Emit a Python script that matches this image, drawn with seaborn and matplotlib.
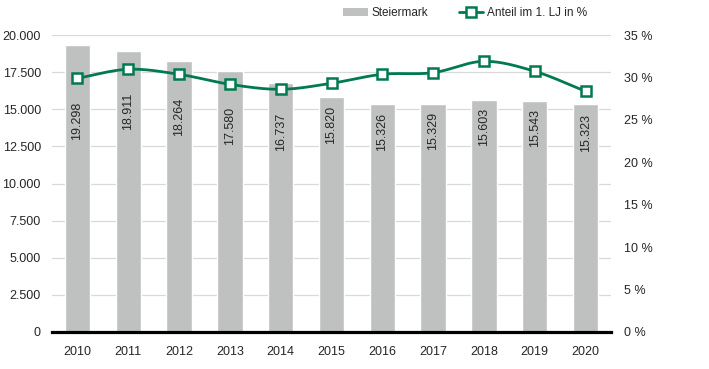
import numpy as np
import pandas as pd
import matplotlib
matplotlib.use("Agg")
import matplotlib.pyplot as plt
import seaborn as sns
from matplotlib.patches import Patch
from matplotlib.lines import Line2D

years = ["2010", "2011", "2012", "2013", "2014", "2015", "2016", "2017", "2018", "2019", "2020"]
steiermark = [19298, 18911, 18264, 17580, 16737, 15820, 15326, 15329, 15603, 15543, 15323]
anteil = [29.9, 30.96, 30.37, 29.19, 28.6, 29.31, 30.37, 30.56, 31.9, 30.72, 28.37]
left_ticks = [0, 2500, 5000, 7500, 10000, 12500, 15000, 17500, 20000]
right_ticks = [0, 5, 10, 15, 20, 25, 30, 35]

BAR = "#BFC1C1"
GREEN = "#007A4E"
FONT = "Liberation Sans"

sns.set_theme(style="white")
plt.rcParams["font.family"] = [FONT, "DejaVu Sans"]

def fmt(v):
    return f"{v:,}".replace(",", ".")

fig = plt.figure(figsize=(7.09, 3.69), dpi=100)
ax = fig.add_axes([52 / 709, 37 / 369, 559 / 709, 297 / 369])

df = pd.DataFrame({"Jahr": years, "Steiermark": steiermark, "Anteil": anteil})
sns.barplot(data=df, x="Jahr", y="Steiermark", color=BAR, width=0.5, ax=ax,
            saturation=1, zorder=2)

ax.set_ylim(0, 20000)
ax.set_xlim(-0.5, len(years) - 0.5)
ax.set_yticks(left_ticks)
ax.set_yticklabels([fmt(t) for t in left_ticks], fontsize=9, color="#262626")
ax.set_xticks(range(len(years)))
ax.set_xticklabels(years, fontsize=9, color="#262626")
ax.tick_params(axis="both", length=0, pad=8)
ax.tick_params(axis="x", pad=10)
ax.set_xlabel("")
ax.set_ylabel("")
ax.yaxis.grid(True, color="#D9D9D9", linewidth=0.9, zorder=0)
ax.set_axisbelow(True)
for s in ["top", "right", "left"]:
    ax.spines[s].set_visible(False)
ax.spines["bottom"].set_color("black")
ax.spines["bottom"].set_linewidth(2.3)
ax.spines["bottom"].set_zorder(5)

# twin axis for percentage
ax2 = ax.twinx()
ax2.set_ylim(0, 35)
ax2.set_yticks(right_ticks)
ax2.set_yticklabels([f"{t} %" for t in right_ticks], fontsize=9, color="#262626")
ax2.tick_params(axis="y", length=0, pad=9)
for s in ax2.spines.values():
    s.set_visible(False)
ax2.grid(False)

# Catmull-Rom smoothing (Excel-like smoothed line)
xs = np.arange(len(anteil), dtype=float)
ys = np.array(anteil, dtype=float)
px = np.concatenate([[2 * xs[0] - xs[1]], xs, [2 * xs[-1] - xs[-2]]])
py = np.concatenate([[2 * ys[0] - ys[1]], ys, [2 * ys[-1] - ys[-2]]])
sx, sy = [], []
t = np.linspace(0, 1, 30)
for i in range(1, len(px) - 2):
    p0, p1, p2, p3 = py[i - 1], py[i], py[i + 1], py[i + 2]
    q0, q1, q2, q3 = px[i - 1], px[i], px[i + 1], px[i + 2]
    def cr(a0, a1, a2, a3):
        return 0.5 * ((2 * a1) + (-a0 + a2) * t + (2 * a0 - 5 * a1 + 4 * a2 - a3) * t ** 2
                      + (-a0 + 3 * a1 - 3 * a2 + a3) * t ** 3)
    sx.extend(cr(q0, q1, q2, q3))
    sy.extend(cr(p0, p1, p2, p3))
smooth = pd.DataFrame({"x": sx, "y": sy})
sns.lineplot(data=smooth, x="x", y="y", color=GREEN, linewidth=2.0, ax=ax2,
             sort=False, zorder=3)
ax2.plot(xs, ys, linestyle="none", marker="s", markersize=7.5,
         markerfacecolor="white", markeredgecolor=GREEN, markeredgewidth=1.8, zorder=4)
ax2.set_xlabel("")
ax2.set_ylabel("")
ax2.set_xlim(-0.5, len(years) - 0.5)

# data labels inside bars
u_per_px = 20000 / 297
for i, v in enumerate(steiermark):
    line_left = anteil[i] / 35 * 20000
    top = min(v - 8 * u_per_px, line_left - 23 * u_per_px)
    ax.text(i, top, fmt(v), rotation=90, ha="center", va="top", fontsize=9,
            color="#262626", zorder=6)

handles = [Patch(facecolor=BAR, edgecolor="none"),
           Line2D([0], [0], color=GREEN, linewidth=2.0, marker="s", markersize=7,
                  markerfacecolor="white", markeredgecolor=GREEN, markeredgewidth=1.8)]
fig.legend(handles, ["Steiermark", "Anteil im 1. LJ in %"], loc="upper center",
           bbox_to_anchor=(0.656, 1.01), ncol=2, frameon=False, fontsize=8.5,
           handlelength=2.1, handletextpad=0.3, columnspacing=2.6)

fig.savefig("out.png", dpi=100)
